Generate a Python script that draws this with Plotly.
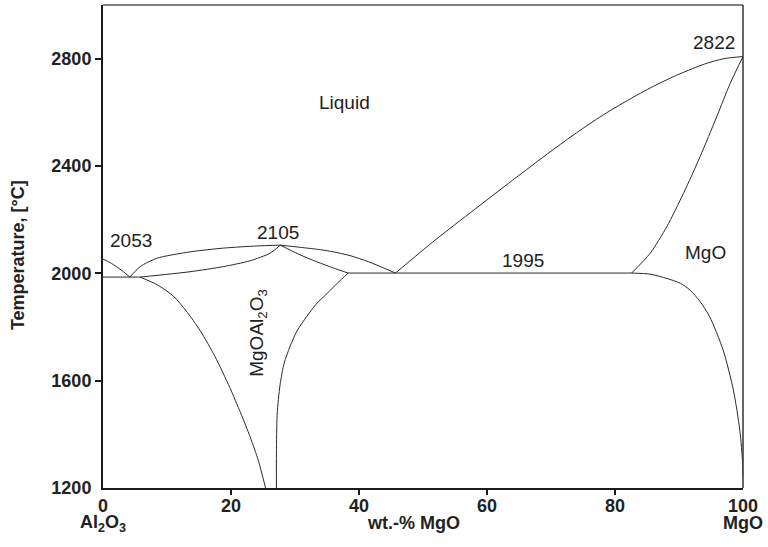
import plotly.graph_objects as go

# ---- data (wt.-% MgO, temperature °C) ----
al2o3_liq_x = [0, 1.1, 2.1, 3.2, 4.2]
al2o3_liq_t = [2053, 2040, 2025, 2006, 1986]

left_eut_x = [0, 5.8]
left_eut_t = [1986, 1986]

sp_liq_left_x = [4.2, 5.8, 8.4, 13.6, 18.8, 24.0, 27.7]
sp_liq_left_t = [1986, 2025, 2056, 2080, 2094, 2102, 2105]

sp_sol_left_x = [5.8, 13.6, 18.8, 23.0, 26.1, 27.7]
sp_sol_left_t = [1986, 2006, 2025, 2047, 2075, 2105]

sp_solvus_left_x = [5.8, 8.5, 11.0, 13.0, 15.2, 17.5, 19.8, 21.5, 23.0, 24.3, 25.4]
sp_solvus_left_t = [1986, 1957, 1915, 1860, 1786, 1690, 1575, 1480, 1390, 1300, 1200]

sp_solvus_right_x = [27.1, 27.1, 27.2, 27.4, 27.7, 28.3, 29.2, 30.3, 31.8, 33.3, 35.0, 36.7, 38.3]
sp_solvus_right_t = [1200, 1330, 1470, 1530, 1590, 1665, 1726, 1785, 1838, 1885, 1925, 1965, 2001]

sp_sol_right_x = [27.7, 30.5, 33.4, 36.0, 38.3]
sp_sol_right_t = [2105, 2072, 2043, 2020, 2001]

sp_liq_right_x = [27.7, 30.8, 34.0, 36.0, 38.6, 41.5, 45.7]
sp_liq_right_t = [2105, 2097, 2088, 2080, 2066, 2043, 2001]

right_eut_x = [38.3, 82.6]
right_eut_t = [2001, 2001]

mgo_liq_x = [45.7, 51.9, 58, 64, 70, 74, 78, 82, 86, 90, 94, 97, 100]
mgo_liq_t = [2001, 2124, 2237, 2347, 2455, 2524, 2588, 2645, 2697, 2742, 2780, 2800, 2808]

mgo_sol_x = [82.6, 85.5, 88.1, 90.7, 93.3, 95.9, 98.0, 100]
mgo_sol_t = [2001, 2075, 2174, 2298, 2435, 2584, 2708, 2808]

mgo_solvus_x = [82.6, 85.5, 88.1, 90.2, 91.7, 93.3, 94.8, 96.9, 98.5, 99.5, 99.95, 100]
mgo_solvus_t = [2001, 1997, 1981, 1963, 1938, 1895, 1838, 1714, 1565, 1416, 1292, 1242]

x_ticks = [0, 20, 40, 60, 80, 100]
y_ticks = [1200, 1600, 2000, 2400, 2800]

labels_text = ["Liquid", "2053", "2105", "1995", "2822", "MgO"]
labels_x = [37.8, 4.3, 27.3, 65.7, 95.4, 94.1]
labels_t = [2635, 2122, 2152, 2048, 2860, 2078]

FONT = "Liberation Sans, Arial, Helvetica, sans-serif"
LINE = dict(color="#2a2a2a", width=1, shape="spline", smoothing=0.7)

curves = [
    (al2o3_liq_x, al2o3_liq_t),
    (left_eut_x, left_eut_t),
    (sp_liq_left_x, sp_liq_left_t),
    (sp_sol_left_x, sp_sol_left_t),
    (sp_solvus_left_x, sp_solvus_left_t),
    (sp_solvus_right_x, sp_solvus_right_t),
    (sp_sol_right_x, sp_sol_right_t),
    (sp_liq_right_x, sp_liq_right_t),
    (right_eut_x, right_eut_t),
    (mgo_liq_x, mgo_liq_t),
    (mgo_sol_x, mgo_sol_t),
    (mgo_solvus_x, mgo_solvus_t),
]

fig = go.Figure()
for cx, ct in curves:
    fig.add_trace(go.Scatter(x=cx, y=ct, mode="lines", line=LINE,
                             hoverinfo="skip", showlegend=False, cliponaxis=False))

for txt, lx, lt in zip(labels_text, labels_x, labels_t):
    fig.add_annotation(x=lx, y=lt, text=txt, showarrow=False,
                       xanchor="center", yanchor="middle",
                       font=dict(family=FONT, size=19, color="#222"))

fig.add_annotation(x=24.2, y=1778, text="MgOAl<sub>2</sub>O<sub>3</sub>", textangle=-90,
                   showarrow=False, xanchor="center", yanchor="middle",
                   font=dict(family=FONT, size=19, color="#222"))

# axis captions
fig.add_annotation(xref="paper", x=0, yref="y", y=2068, xshift=-85,
                   xanchor="center", yanchor="middle",
                   text="Temperature, [°C]", textangle=-90, showarrow=False,
                   font=dict(family=FONT, size=18, color="#222", weight="bold"))
for txt, xx in [("Al<sub>2</sub>O<sub>3</sub>", 0), ("wt.-% MgO", 48.5), ("MgO", 100)]:
    fig.add_annotation(x=xx, xref="x", yref="paper", y=0, yshift=-35, text=txt,
                       xanchor="center", yanchor="middle", showarrow=False,
                       font=dict(family=FONT, size=18, color="#222", weight="bold"))

# top and right frame lines (thinner)
fig.add_shape(type="line", xref="paper", yref="paper", x0=0, x1=1, y0=1, y1=1,
              line=dict(color="#555", width=1.5))
fig.add_shape(type="line", xref="paper", yref="paper", x0=1, x1=1, y0=0, y1=1,
              line=dict(color="#333", width=1.5))

fig.update_xaxes(range=[0, 100], tickvals=x_ticks, ticks="", showgrid=False, zeroline=False,
                 showline=True, linecolor="#1a1a1a", linewidth=2,
                 tickfont=dict(family=FONT, size=18, color="#222", weight="bold"),
                 minor=dict(tickvals=[20, 40, 60, 80], ticks="outside", ticklen=5,
                            tickcolor="#1a1a1a", tickwidth=1.5))
fig.update_yaxes(range=[1200, 3000], tickvals=y_ticks, ticks="", showgrid=False, zeroline=False,
                 showline=True, linecolor="#1a1a1a", linewidth=2, ticklabelstandoff=6,
                 tickfont=dict(family=FONT, size=18, color="#222", weight="bold"),
                 minor=dict(tickvals=[1600, 2000, 2400, 2800], ticks="outside", ticklen=6,
                            tickcolor="#1a1a1a", tickwidth=1.5))

fig.update_layout(width=768, height=547, plot_bgcolor="white", paper_bgcolor="white",
                  margin=dict(l=103, r=25, t=5, b=59), showlegend=False,
                  font=dict(family=FONT))

fig.write_html("out.html", config={"displayModeBar": False},
               post_script="document.body.style.margin='0';document.body.style.padding='0';")
